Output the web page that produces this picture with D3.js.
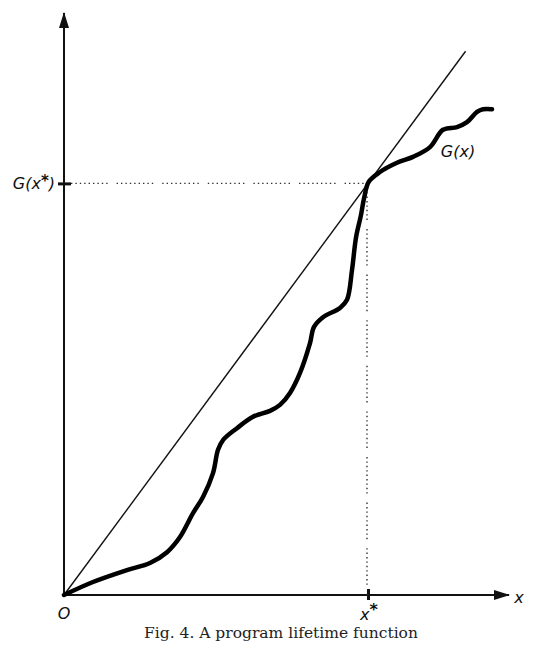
<!DOCTYPE html>
<html>
<head>
<meta charset="utf-8">
<script src="https://cdn.jsdelivr.net/npm/d3@7/dist/d3.min.js"></script>
<style>
  html, body { margin: 0; padding: 0; background: #fff; }
  svg { display: block; }
  .lbl { font-family: "DejaVu Sans", sans-serif; font-style: oblique; fill: #111; }
  .cap { font-family: "DejaVu Serif", serif; fill: #222; }
</style>
</head>
<body>
<script>
// ---- data (units of the figure) ----
const gX = [0, 0.725, 1.575, 2.15, 2.575, 2.9, 3.225, 3.475, 3.725, 3.85, 3.975, 4.325, 4.725, 5.15, 5.4, 5.65, 5.9, 6.15, 6.25, 6.475, 6.9, 7.075, 7.2, 7.3, 7.42, 7.5, 7.62, 7.9, 8.325, 8.725, 9.15, 9.475, 9.825, 10.075, 10.325, 10.475, 10.7];
const gY = [0, 0.24, 0.46, 0.59, 0.79, 1.07, 1.51, 1.81, 2.25, 2.68, 2.86, 3.08, 3.29, 3.40, 3.51, 3.73, 4.10, 4.65, 4.95, 5.13, 5.30, 5.45, 6.0, 6.6, 7.0, 7.32, 7.63, 7.81, 7.98, 8.09, 8.27, 8.59, 8.64, 8.73, 8.92, 8.97, 8.97];
const diagX = [0, 10.04];
const diagY = [0, 10.04];
const xStar = 7.6;
const gStar = 7.6;
const xMax = 11.125;
const yMax = 10.746;
const caption = "Fig. 4. A program lifetime function";

const W = 550, H = 669;
const svg = d3.select("body").append("svg").attr("width", W).attr("height", H);

const x = d3.scaleLinear().domain([0, xMax]).range([64, 509]);
const y = d3.scaleLinear().domain([0, yMax]).range([595, 13]);

// arrow markers
const defs = svg.append("defs");
defs.append("marker").attr("id", "arr").attr("viewBox", "0 0 16 10")
  .attr("refX", 15).attr("refY", 5).attr("markerWidth", 16).attr("markerHeight", 10)
  .attr("markerUnits", "userSpaceOnUse").attr("orient", "auto")
  .append("path").attr("d", "M0,0 L16,5 L0,10 Z").attr("fill", "#111");

// axes using d3 axes
const xAxis = svg.append("g").attr("transform", `translate(0,${y(0)})`)
  .call(d3.axisBottom(x).tickValues([xStar]).tickFormat("").tickSizeInner(5).tickSizeOuter(0));
const yAxis = svg.append("g").attr("transform", `translate(${x(0)},0)`)
  .call(d3.axisLeft(y).tickValues([gStar]).tickFormat("").tickSizeInner(6).tickSizeOuter(0));

[xAxis, yAxis].forEach(g => {
  g.select(".domain").attr("stroke", "#111").attr("stroke-width", 2).attr("marker-end", "url(#arr)");
  g.selectAll(".tick line").attr("stroke", "#111").attr("stroke-width", 3);
});
xAxis.selectAll(".tick line").attr("y1", -6).attr("y2", 5);
yAxis.selectAll(".tick line").attr("x1", -6).attr("x2", 7);
xAxis.select(".domain").attr("d", `M${x(0)},0H${x(xMax)}`);
yAxis.select(".domain").attr("d", `M0,${y(0)}V${y(yMax)}`);

// dotted guide lines
const dotPattern = "1.4,3,1.4,3,1.4,3,1.4,3,1.4,3,1.4,3,1.4,3,1.4,3,1.4,9";
svg.append("line")
  .attr("x1", x(0) + 7).attr("y1", y(gStar)).attr("x2", x(xStar)).attr("y2", y(gStar))
  .attr("stroke", "#333").attr("stroke-width", 1.4).attr("stroke-dasharray", dotPattern);
svg.append("line")
  .attr("x1", x(xStar) - 1).attr("y1", y(gStar)).attr("x2", x(xStar) - 1).attr("y2", y(0))
  .attr("stroke", "#333").attr("stroke-width", 1.4).attr("stroke-dasharray", dotPattern);

// diagonal
const line = d3.line().x(d => x(d[0])).y(d => y(d[1]));
svg.append("path").datum(d3.zip(diagX, diagY))
  .attr("d", line).attr("fill", "none").attr("stroke", "#111").attr("stroke-width", 1.4);

// G(x)
svg.append("path").datum(d3.zip(gX, gY))
  .attr("d", line.curve(d3.curveCatmullRom.alpha(0.5)))
  .attr("fill", "none").attr("stroke", "#000").attr("stroke-width", 4.5)
  .attr("stroke-linecap", "round").attr("stroke-linejoin", "round");

// labels
const gxs = svg.append("text").attr("class", "lbl").attr("x", x(0) - 9).attr("y", y(gStar) + 6)
  .attr("text-anchor", "end").attr("font-size", 16);
gxs.append("tspan").text("G(x");
gxs.append("tspan").text("*").attr("dy", -3).attr("font-size", 15).attr("font-weight", "bold");
gxs.append("tspan").text(")").attr("dy", 3);

svg.append("text").attr("class", "lbl").attr("x", 458).attr("y", 157)
  .attr("text-anchor", "middle").attr("font-size", 16).text("G(x)");

svg.append("text").attr("class", "lbl").attr("x", x(0)).attr("y", 619)
  .attr("text-anchor", "middle").attr("font-size", 16).text("O");

const xs = svg.append("text").attr("class", "lbl").attr("x", x(xStar) - 8).attr("y", 620)
  .attr("font-size", 16);
xs.append("tspan").text("x");
xs.append("tspan").text("*").attr("dy", -5).attr("font-size", 16).attr("font-weight", "bold");

svg.append("text").attr("class", "lbl").attr("x", 519).attr("y", 603)
  .attr("text-anchor", "middle").attr("font-size", 16).text("x");

svg.append("text").attr("class", "cap").attr("x", 281).attr("y", 638)
  .attr("text-anchor", "middle").attr("font-size", 15.5).text(caption);
</script>
</body>
</html>
